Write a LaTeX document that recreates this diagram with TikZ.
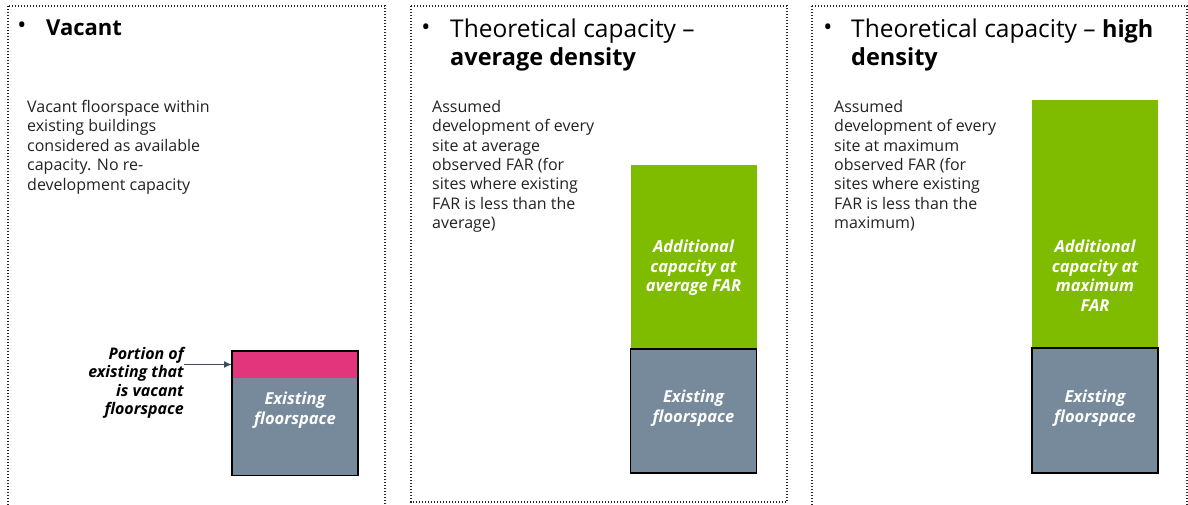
\documentclass[tikz,border=0pt]{standalone}
\usepackage{fontspec}
\usetikzlibrary{arrows.meta}
\setmainfont{Open Sans}
\definecolor{addgreen}{HTML}{7FBC00}
\definecolor{slate}{HTML}{768A9C}
\definecolor{vacpink}{HTML}{E2357B}
\definecolor{ptrcol}{HTML}{3E4E5E}
\definecolor{bodyink}{HTML}{222222}
% bold part of a heading
\newcommand\headbold{\fontsize{23.5}{28}\selectfont\bfseries}
\begin{document}
\begin{tikzpicture}[x=1pt,y=-1pt,
  panel/.style={draw=black!85,line width=1.1pt,dash pattern=on 1.1pt off 1.9pt},
  bullet/.style={inner sep=0pt,font=\fontsize{24}{28}\selectfont},
  title/.style={anchor=west,inner sep=0pt,align=left,font=\fontsize{24.5}{28}\selectfont},
  body/.style={anchor=north west,inner sep=0pt,align=left,text=bodyink,font=\fontsize{16}{19.4}\selectfont},
  bar/.style={inner sep=0pt,outer sep=0pt,draw=none,minimum width=126pt},
  barlabel/.style={inner sep=0pt,align=center,text=white,font=\fontsize{16.5}{19.5}\selectfont\bfseries\itshape},
  outline/.style={draw=black,line width=1.6pt},
  ptr/.style={draw=ptrcol,line width=1.4pt,-{Latex[length=8pt,width=7pt]}}
]
\useasboundingbox (0,0) rectangle (1188,504);

% dotted frames of the three scenarios
\draw[panel] (8,6) rectangle (385,515);
\draw[panel] (411,6) rectangle (787,502);
\draw[panel] (812,6) rectangle (1187,515);

% --- Vacant ---
\node[bullet] (b1) at (22,28) {•};
\node[title,font=\fontsize{22}{28}\selectfont\bfseries] (t1) at (46,28) {Vacant};
\node[body] (d1) at (27,100) {Vacant floorspace within\\existing buildings\\considered as available\\capacity. No re-\\development capacity};

\node[bar,fill=vacpink,minimum height=27pt] (vac) at (295,364.5) {};
\node[bar,fill=slate,minimum height=97.5pt] (ex1) at (295,426.75) {};
\draw[outline] (vac.north west) rectangle (ex1.south east);
\node[barlabel] (ex1t) at (295,410) {Existing\\floorspace};
\node[anchor=north east,inner sep=0pt,align=right,font=\fontsize{16}{18.5}\selectfont\bfseries\itshape] (portion) at (184,347) {Portion of\\existing that\\is vacant\\floorspace};
\draw[ptr] (portion.east |- vac.west) -- (vac.west);

% --- Theoretical capacity, average density ---
\node[bullet] (b2) at (426,30) {•};
\node[title] (t2) at (450,45) {Theoretical capacity –\\{\headbold average density}};
\node[body] (d2) at (432,100) {Assumed\\development of every\\site at average\\observed FAR (for\\sites where existing\\FAR is less than the\\average)};

\node[bar,fill=addgreen,minimum height=184pt] (add2) at (693.5,257) {};
\node[bar,fill=slate,minimum height=124pt] (ex2) at (693.5,411) {};
\draw[outline] (ex2.north west) rectangle (ex2.south east);
\node[barlabel] (add2t) at (693.5,268) {Additional\\capacity at\\average FAR};
\node[barlabel] (ex2t) at (693.5,408) {Existing\\floorspace};

% --- Theoretical capacity, high density ---
\node[bullet] (b3) at (828,30) {•};
\node[title] (t3) at (851,45) {Theoretical capacity – {\headbold high}\\{\headbold density}};
\node[body] (d3) at (834,100) {Assumed\\development of every\\site at maximum\\observed FAR (for\\sites where existing\\FAR is less than the\\maximum)};

\node[bar,fill=addgreen,minimum height=248pt] (add3) at (1095,224) {};
\node[bar,fill=slate,minimum height=125pt] (ex3) at (1095,410.5) {};
\draw[outline] (ex3.north west) rectangle (ex3.south east);
\node[barlabel] (add3t) at (1095,275.5) {Additional\\capacity at\\maximum\\FAR};
\node[barlabel] (ex3t) at (1095,408) {Existing\\floorspace};
\end{tikzpicture}
\end{document}
